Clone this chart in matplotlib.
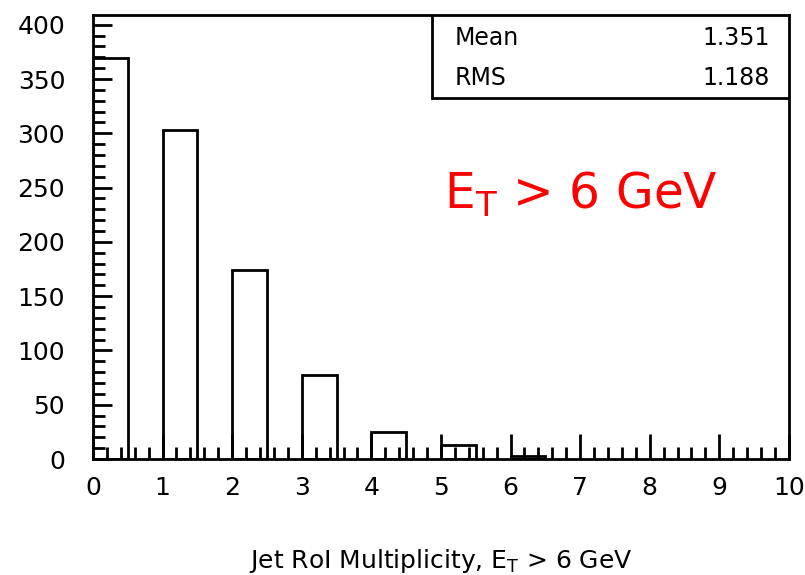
import matplotlib.pyplot as plt
import numpy as np
from matplotlib.ticker import MultipleLocator

# histogram of jet RoI multiplicity (bins 0.5 wide starting at integers)
bin_left = [0, 1, 2, 3, 4, 5, 6]
counts = [369, 303, 174, 77, 25, 13, 3]
bin_width = 0.5

fig = plt.figure(figsize=(8.05, 5.75), dpi=100)
ax = fig.add_axes([0.1155, 0.2017, 0.8645, 0.7723])

ax.bar(bin_left, counts, width=bin_width, align='edge',
       facecolor='white', edgecolor='black', linewidth=2)

ax.set_xlim(0, 10)
ax.set_ylim(0, 409)
ax.xaxis.set_major_locator(MultipleLocator(1))
ax.xaxis.set_minor_locator(MultipleLocator(0.2))
ax.yaxis.set_major_locator(MultipleLocator(50))
ax.yaxis.set_minor_locator(MultipleLocator(10))
ax.tick_params(which='both', direction='in', top=False, right=False,
               width=2, labelsize=18)
ax.tick_params(axis='x', which='major', length=18, pad=12)
ax.tick_params(axis='x', which='minor', length=9)
ax.tick_params(axis='y', which='major', length=14, pad=20)
ax.tick_params(axis='y', which='minor', length=8.5)
for s in ax.spines.values():
    s.set_linewidth(2)

ax.set_xlabel('Jet RoI Multiplicity, E$_\\mathrm{T}$ > 6 GeV', fontsize=18, labelpad=34)

# stats box
box = plt.Rectangle((0.4875, 0.813), 0.5125, 0.187, transform=ax.transAxes,
                    facecolor='white', edgecolor='black', linewidth=2, zorder=5)
ax.add_patch(box)
ax.text(0.52, 0.948, 'Mean', transform=ax.transAxes, fontsize=17, va='center', zorder=6)
ax.text(0.972, 0.948, '1.351', transform=ax.transAxes, fontsize=17, va='center', ha='right', zorder=6)
ax.text(0.52, 0.858, 'RMS', transform=ax.transAxes, fontsize=17, va='center', zorder=6)
ax.text(0.972, 0.858, '1.188', transform=ax.transAxes, fontsize=17, va='center', ha='right', zorder=6)

ax.text(0.505, 0.595, 'E$_\\mathrm{T}$ > 6 GeV', transform=ax.transAxes,
        fontsize=35, color='#ff0000', va='center', ha='left')

fig.savefig('out.png', dpi=100)
